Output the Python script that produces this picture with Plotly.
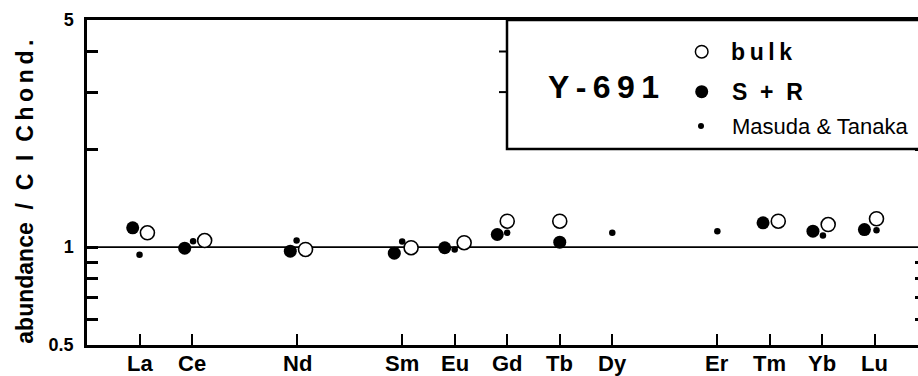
import plotly.graph_objects as go

# ---------------- data ----------------
elements = ["La", "Ce", "Nd", "Sm", "Eu", "Gd", "Tb", "Dy", "Er", "Tm", "Yb", "Lu"]
atomic_number = [57, 58, 60, 62, 63, 64, 65, 66, 68, 69, 70, 71]

# bulk (open circles); None = not measured
bulk = [1.107, 1.048, 0.984, 0.996, 1.032, 1.202, 1.202, None, None, 1.202, 1.174, 1.223]
bulk_shift = [0.15, 0.24, 0.16, 0.17, 0.18, 0.0, 0.0, 0.0, 0.0, 0.16, 0.11, 0.03]

# S + R (large filled circles)
sr = [1.147, 0.993, 0.972, 0.958, 0.996, 1.094, 1.036, None, None, 1.188, 1.120, 1.133]
sr_shift = [-0.13, -0.14, -0.13, -0.15, -0.19, -0.19, 0.0, 0.0, 0.0, -0.13, -0.18, -0.2]

# Masuda & Tanaka (small dots)
mt = [0.948, 1.043, 1.048, 1.041, 0.984, 1.107, None, 1.107, 1.120, None, 1.086, 1.128]
mt_shift = [0.0, 0.02, -0.01, 0.0, 0.0, 0.0, 0.0, 0.0, 0.0, 0.0, 0.01, 0.03]

y_tickvals = [0.5, 0.6, 0.7, 0.8, 0.9, 1, 2, 3, 4, 5]
y_ticktext = ["0.5", "", "", "", "", "1", "", "", "", "5"]
minor_vals = [0.6, 0.7, 0.8, 0.9, 2, 3, 4]

FONT = "Liberation Sans, Arial, sans-serif"


def series(vals, shifts):
    xs, ys = [], []
    for z, v, s in zip(atomic_number, vals, shifts):
        if v is not None:
            xs.append(z + s)
            ys.append(v)
    return xs, ys


fig = go.Figure()

bx, by = series(bulk, bulk_shift)
fig.add_trace(go.Scatter(x=bx, y=by, mode="markers", name="bulk",
                         marker=dict(size=14, color="white",
                                     line=dict(color="black", width=1.6)),
                         showlegend=False))
sx, sy = series(sr, sr_shift)
fig.add_trace(go.Scatter(x=sx, y=sy, mode="markers", name="S + R",
                         marker=dict(size=13, color="black"),
                         showlegend=False))
mx, my = series(mt, mt_shift)
fig.add_trace(go.Scatter(x=mx, y=my, mode="markers", name="Masuda & Tanaka",
                         marker=dict(size=6.5, color="black"),
                         showlegend=False))
# invisible trace to activate the right-hand axis
fig.add_trace(go.Scatter(x=[atomic_number[0]], y=[1], yaxis="y2", mode="markers",
                         marker=dict(size=1, opacity=0), showlegend=False,
                         hoverinfo="skip"))

W, H = 918, 376
L, R, T, B = 87, 0, 20, 31
PW, PH = W - L - R, H - T - B


def px(xp):
    return (xp - L) / PW


def py(yp):
    return 1 - (yp - T) / PH


fig.update_layout(
    width=W, height=H, autosize=False,
    margin=dict(l=L, r=R, t=T, b=B, pad=0, autoexpand=False),
    paper_bgcolor="white", plot_bgcolor="white",
    font=dict(family=FONT, color="black"),
    xaxis=dict(range=[56, 71.82], tickvals=atomic_number,
               showticklabels=False, automargin=False,
               ticks="inside", ticklen=11, tickwidth=2, tickcolor="black",
               showline=True, linewidth=2.5, linecolor="black", mirror=True,
               showgrid=False, zeroline=False),
    yaxis=dict(type="log", range=[-0.30103, 0.69897], automargin=False,
               tickvals=y_tickvals, ticktext=y_ticktext,
               ticks="inside", ticklen=11, tickwidth=2.5, tickcolor="black",
               showline=True, linewidth=2.5, linecolor="black", mirror=True,
               showgrid=False, zeroline=False,
               tickfont=dict(size=18, family=FONT, weight="bold"),
               ticklabelstandoff=7),
    yaxis2=dict(type="log", range=[-0.30103, 0.69897], overlaying="y", side="right",
                automargin=False,
                tickvals=minor_vals, ticks="inside", ticklen=3, tickwidth=2.5,
                tickcolor="black", showticklabels=False, showline=False,
                showgrid=False, zeroline=False),
)

shapes = [
    # reference line at abundance = 1
    dict(type="line", xref="paper", yref="y", x0=0, x1=1, y0=1, y1=1,
         line=dict(color="black", width=1.8), layer="below"),
    # legend box
    dict(type="rect", xref="paper", yref="paper", x0=px(507), x1=1.05, y0=py(149), y1=1.0,
         line=dict(color="black", width=2.5), fillcolor="white", layer="above"),
    # small stray ticks next to the box
    dict(type="line", xref="paper", yref="y", x0=px(499), x1=px(507), y0=4, y1=4,
         line=dict(color="black", width=2)),
    dict(type="line", xref="paper", yref="y", x0=px(499), x1=px(507), y0=3, y1=3,
         line=dict(color="black", width=2)),
    # legend symbols
    dict(type="circle", xref="paper", yref="paper", xsizemode="pixel", ysizemode="pixel",
         xanchor=px(701.7), yanchor=py(51.7), x0=-6.3, x1=6.3, y0=-6.3, y1=6.3,
         line=dict(color="black", width=1.5), fillcolor="white", layer="above"),
    dict(type="circle", xref="paper", yref="paper", xsizemode="pixel", ysizemode="pixel",
         xanchor=px(701.7), yanchor=py(91.7), x0=-6.5, x1=6.5, y0=-6.5, y1=6.5,
         line=dict(color="black", width=0), fillcolor="black", layer="above"),
    dict(type="circle", xref="paper", yref="paper", xsizemode="pixel", ysizemode="pixel",
         xanchor=px(701), yanchor=py(126), x0=-3, x1=3, y0=-3, y1=3,
         line=dict(color="black", width=0), fillcolor="black", layer="above"),
]
fig.update_layout(shapes=shapes)

TS = "\u2009"
NB = "\u00a0"
ytitle = f"abundance{NB}{NB}/{NB}{NB}C{NB}{NB}I{NB}{NB}C{TS}h{TS}o{TS}n{TS}d{TS}."
annotations = [
    dict(text=ytitle, textangle=-90, xref="paper", yref="paper",
         x=px(25), y=py(191.7), xanchor="center", yanchor="middle", showarrow=False,
         font=dict(size=23, family=FONT, weight="bold")),
    dict(text=TS.join("Y-691"), xref="paper", yref="paper",
         x=px(603.3), y=py(87.2), xanchor="center", yanchor="middle", showarrow=False,
         font=dict(size=32, family=FONT, weight="bold")),
    dict(text="b\u2009u\u2009l\u2009k", xref="paper", yref="paper",
         x=px(729), y=py(51.7), xanchor="left", yanchor="middle", showarrow=False,
         font=dict(size=23, family=FONT, weight="bold")),
    dict(text=f"S{NB}{NB}+{NB}{NB}R", xref="paper", yref="paper",
         x=px(730), y=py(91.7), xanchor="left", yanchor="middle", showarrow=False,
         font=dict(size=23, family=FONT, weight="bold")),
    dict(text="Masuda & Tanaka", xref="paper", yref="paper",
         x=px(730), y=py(126.7), xanchor="left", yanchor="middle", showarrow=False,
         font=dict(size=22, family=FONT)),
]
# x tick labels (element symbols) placed under their ticks
for z, el in zip(atomic_number, elements):
    annotations.append(dict(text=el, xref="x", yref="paper", x=z, y=py(363),
                            xanchor="center", yanchor="middle", showarrow=False,
                            font=dict(size=22, family=FONT, weight="bold")))
fig.update_layout(annotations=annotations)

fig.write_html(
    "out.html",
    config={"displayModeBar": False},
    post_script="document.body.style.margin='0';document.body.style.padding='0';"
                "document.documentElement.style.overflow='hidden';",
)
